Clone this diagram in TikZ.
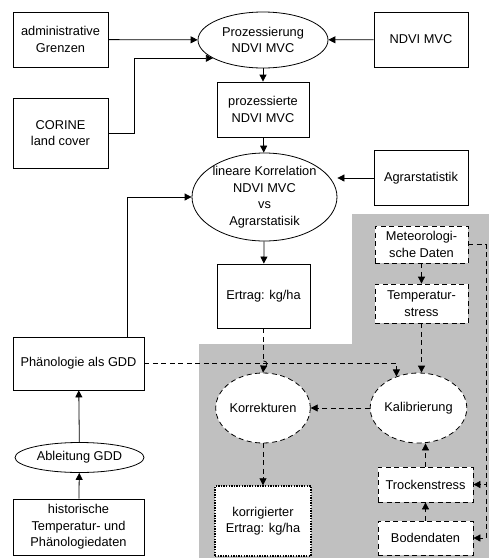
\documentclass[tikz,border=0pt]{standalone}
\usepackage{fontspec}
\setmainfont{Liberation Sans}
\usetikzlibrary{shapes.geometric,arrows.meta}
\definecolor{shadegray}{RGB}{192,192,192}
\tikzset{
  box/.style={draw, line width=0.8pt, fill=white, align=center, inner sep=0pt,
    font=\fontsize{12.8}{16.5}\selectfont},
  dbox/.style={box, dash pattern=on 5pt off 3.5pt},
  dotbox/.style={box, line width=1.4pt, dash pattern=on 1.4pt off 1.2pt},
  oval/.style={ellipse, box},
  doval/.style={ellipse, dbox},
  arr/.style={line width=0.8pt, -{Triangle[length=7pt,width=7pt]}},
  darr/.style={arr, dash pattern=on 5pt off 3.5pt},
}
\begin{document}
\begin{tikzpicture}[x=1pt,y=-1pt]
    \useasboundingbox (0,0) rectangle (489,558);
    % grey area
    \fill[shadegray] (199,344) -- (352,344) -- (352,214) -- (489,214) -- (489,558) -- (199,558) -- cycle;
    % upper part
    \node[box, minimum width=95pt, minimum height=55pt] (admin) at (60.5,39.5) {administrative\\Grenzen};
    \node[box, minimum width=95pt, minimum height=70pt] (cor) at (60.5,133) {CORINE\\land cover};
    \node[oval, minimum width=130pt, minimum height=56pt] (proz) at (263,40) {Prozessierung\\NDVI MVC};
    \node[box, minimum width=94pt, minimum height=55pt] (ndvi) at (421,39.5) {NDVI MVC};
    \node[box, minimum width=92pt, minimum height=55pt] (prozd) at (263,109.5) {prozessierte\\NDVI MVC};
    \node[oval, inner sep=-2pt, minimum width=145pt, minimum height=88pt] (lin) at (264.5,197) {lineare Korrelation\\NDVI MVC\\vs\\Agrarstatisik};
    \node[box, minimum width=94pt, minimum height=55pt] (agrar) at (421,178) {Agrarstatistik};
    \node[box, minimum width=93pt, minimum height=64pt] (ertrag) at (263.5,296) {Ertrag: kg/ha};
    % left column
    \node[box, minimum width=131pt, minimum height=53pt] (phen) at (78.5,363.5) {Phänologie als GDD};
    \node[oval, minimum width=129pt, minimum height=30pt] (abl) at (79.5,457.5) {Ableitung GDD};
    \node[box, minimum width=131pt, minimum height=56pt] (hist) at (78.5,527) {historische\\Temperatur- und\\Phänologiedaten};
    % grey part
    \node[dbox, minimum width=93pt, minimum height=37pt] (met) at (421.5,244.5) {Meteorologi-\\sche Daten};
    \node[dbox, minimum width=93pt, minimum height=39pt] (temp) at (421.5,303.5) {Temperatur-\\stress};
    \node[doval, minimum width=94pt, minimum height=70pt] (korr) at (263,408) {Korrekturen};
    \node[doval, minimum width=93pt, minimum height=70pt] (kal) at (418.5,408) {Kalibrierung};
    \node[dotbox, minimum width=96pt, minimum height=70pt] (korkg) at (263,521) {korrigierter\\Ertrag: kg/ha};
    \node[dbox, minimum width=95pt, minimum height=35pt] (troc) at (425.5,484.5) {Trockenstress};
    \node[dbox, minimum width=95pt, minimum height=34pt] (bod) at (425.5,538) {Bodendaten};
    % connectors
    \draw[arr] (admin) -- (proz);
    \draw[arr] (cor.east) -- ++(26,0) |- (proz.200);
    \draw[arr] (ndvi) -- (proz);
    \draw[arr] (proz) -- (prozd);
    \draw[arr] (prozd) -- (lin);
    \draw[arr] (agrar.west) -- (agrar.west -| lin.east);
    \draw[arr] (lin) -- (ertrag);
    \draw[arr] ([xshift=-17pt]phen.north east) |- (lin.west);
    \draw[arr] (abl) -- (phen);
    \draw[arr] (hist) -- (abl);
    % line jump over the dashed line
    \draw[line width=0.8pt, dash pattern=on 5pt off 3.5pt] (ertrag.south) -- ++(0,32.5);
    \draw[line width=0.8pt] ([yshift=-32.5pt]ertrag.south) .. controls +(4.5,0) and +(4.5,0) .. ++(0,6);
    \draw[darr] ([yshift=-38.5pt]ertrag.south) -- (korr.north);
    \draw[darr] (phen.east) -| (kal.125);
    \draw[darr] (met) -- (temp);
    \draw[darr] (temp.south) -- (temp.south |- kal.north);
    \draw[darr] (kal) -- (korr);
    \draw[darr] (korr) -- (korkg);
    \draw[darr] (troc.north) -- (troc.north |- kal.south);
    \draw[darr] (bod) -- (troc);
    \draw[darr] (met.east) -- ++(18,0) |- (troc.east);
    \draw[darr] (met.east) -- ++(18,0) |- (bod.east);
  \end{tikzpicture}
\end{document}
